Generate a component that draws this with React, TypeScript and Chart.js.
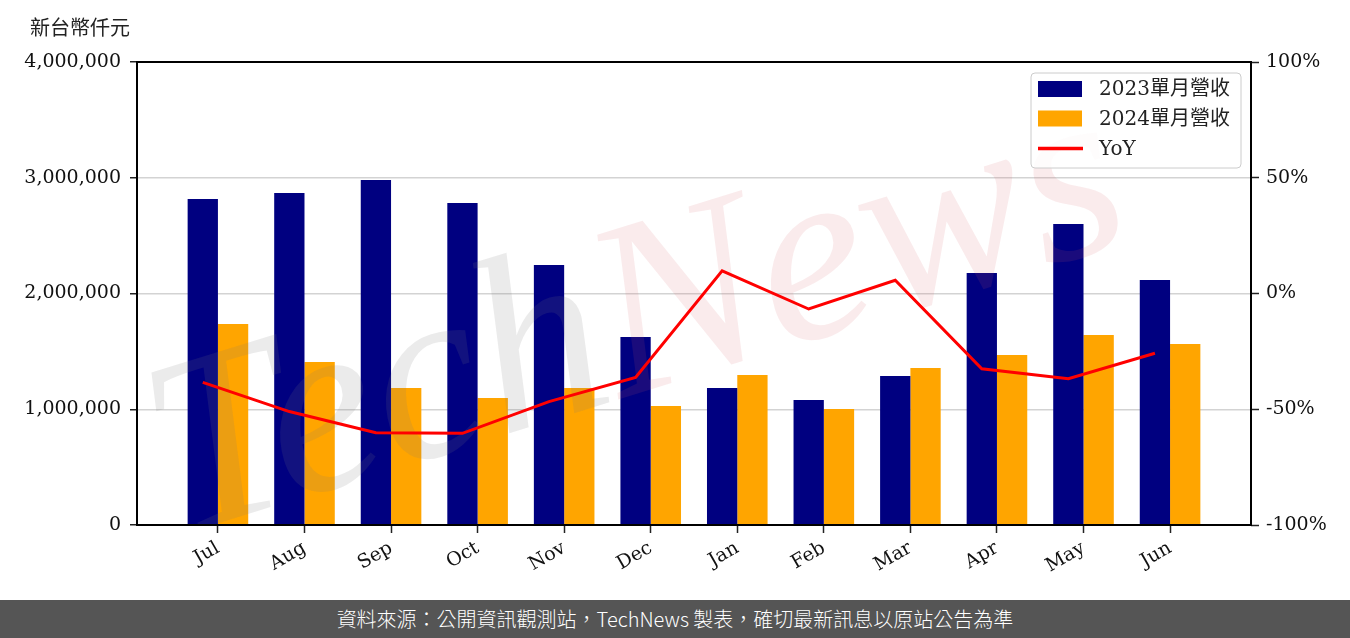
import React, { useEffect, useRef } from "react";
import { Chart, registerables } from "chart.js";

Chart.register(...registerables);

const months = ["Jul", "Aug", "Sep", "Oct", "Nov", "Dec", "Jan", "Feb", "Mar", "Apr", "May", "Jun"];
const rev2023 = [2816000, 2868000, 2981000, 2782000, 2246000, 1624000, 1184000, 1080000, 1287000, 2177000, 2600000, 2117000];
const rev2024 = [1737000, 1408000, 1184000, 1097000, 1184000, 1028000, 1296000, 1002000, 1356000, 1469000, 1641000, 1564000];
const yoy = [-38.4, -51.0, -60.1, -60.4, -46.7, -36.3, 9.8, -6.7, 5.7, -32.5, -36.8, -25.8];
const leftTicks = [0, 1000000, 2000000, 3000000, 4000000];
const rightTicks = [-100, -50, 0, 50, 100];
const seriesNames = ["2023單月營收", "2024單月營收", "YoY"];
const unitLabel = "新台幣仟元";
const footerText = "資料來源：公開資訊觀測站，TechNews 製表，確切最新訊息以原站公告為準";

const SERIF = "'DejaVu Serif', 'Noto Sans CJK TC', serif";
const CJK = "'Noto Sans CJK TC', 'Noto Sans', sans-serif";
const NAVY = "#000080";
const ORANGE = "#FFA500";
const RED = "#FF0000";

const BAR_OFFSET = 0.175;

const overlayPlugin = {
  id: "overlay",
  beforeDatasetDraw(chart: any, args: any) {
    if (args.index !== 2) return;
    const ctx = chart.ctx;
    const a = chart.chartArea;
    ctx.save();
    ctx.beginPath();
    ctx.rect(a.left, a.top, a.right - a.left, a.bottom - a.top);
    ctx.clip();
    ctx.translate(640, 330);
    ctx.rotate(-0.3);
    ctx.font = "italic 250px 'Liberation Serif', serif";
    ctx.textBaseline = "alphabetic";
    ctx.textAlign = "left";
    const w1 = ctx.measureText("Tech").width;
    const w2 = ctx.measureText("News").width;
    const start = -(w1 + w2) / 2;
    ctx.fillStyle = "rgba(120,120,120,0.15)";
    ctx.fillText("Tech", start, 60);
    ctx.fillStyle = "rgba(215,90,100,0.12)";
    ctx.fillText("News", start + w1, 60);
    ctx.restore();
  },
  afterDraw(chart: any) {
    const ctx = chart.ctx;
    const a = chart.chartArea;
    ctx.save();
    // frame
    ctx.strokeStyle = "#000";
    ctx.lineWidth = 2;
    ctx.strokeRect(a.left, a.top, a.right - a.left, a.bottom - a.top);

    // unit label
    ctx.fillStyle = "#222";
    ctx.font = `20px ${CJK}`;
    ctx.textAlign = "left";
    ctx.textBaseline = "middle";
    ctx.fillText(unitLabel, 30, 27);

    // legend
    const lx = 1031, ly = 73, lw = 210, lh = 95;
    ctx.beginPath();
    (ctx as any).roundRect(lx, ly, lw, lh, 4);
    ctx.fillStyle = "rgba(255,255,255,0.85)";
    ctx.fill();
    ctx.strokeStyle = "#cccccc";
    ctx.lineWidth = 1;
    ctx.stroke();

    const rows = [89, 118.5, 148.5];
    ctx.fillStyle = NAVY;
    ctx.fillRect(1038, rows[0] - 8, 44, 16);
    ctx.fillStyle = ORANGE;
    ctx.fillRect(1038, rows[1] - 8, 44, 16);
    ctx.strokeStyle = RED;
    ctx.lineWidth = 3.5;
    ctx.beginPath();
    ctx.moveTo(1038, rows[2]);
    ctx.lineTo(1083, rows[2]);
    ctx.stroke();

    ctx.fillStyle = "#222";
    ctx.font = `20px ${SERIF}`;
    ctx.textBaseline = "middle";
    seriesNames.forEach((n, i) => ctx.fillText(n, 1099, rows[i] + 1));
    ctx.restore();
  },
};

export default function App() {
  const ref = useRef<HTMLCanvasElement | null>(null);

  useEffect(() => {
    if (!ref.current) return;
    const tickFont = { family: SERIF, size: 19 };
    const chart = new Chart(ref.current, {
      type: "bar",
      data: {
        datasets: [
          {
            type: "bar",
            label: seriesNames[0],
            data: rev2023.map((v, i) => ({ x: i, y: v })),
            backgroundColor: NAVY,
            yAxisID: "y",
            xAxisID: "x",
            order: 1,
            categoryPercentage: 0.7,
            barPercentage: 1.0,
          } as any,
          {
            type: "bar",
            label: seriesNames[1],
            data: rev2024.map((v, i) => ({ x: i, y: v })),
            backgroundColor: ORANGE,
            yAxisID: "y",
            xAxisID: "x",
            order: 1,
            categoryPercentage: 0.7,
            barPercentage: 1.0,
          } as any,
          {
            type: "line",
            label: seriesNames[2],
            data: yoy.map((v, i) => ({ x: i - BAR_OFFSET, y: v })),
            borderColor: RED,
            backgroundColor: RED,
            borderWidth: 3,
            pointRadius: 0,
            tension: 0,
            yAxisID: "y1",
            xAxisID: "x",
            order: 0,
          } as any,
        ],
      },
      options: {
        animation: false,
        responsive: false,
        maintainAspectRatio: false,
        layout: { padding: { top: 62, left: 0, right: 0, bottom: 0 } },
        plugins: {
          legend: { display: false },
          tooltip: { enabled: false },
          title: { display: false },
        },
        scales: {
          x: {
            type: "linear",
            offset: false,
            min: -0.935,
            max: 11.935,
            afterBuildTicks: (s: any) => {
              s.ticks = months.map((_, i) => ({ value: i }));
            },
            ticks: {
              callback: (v: any) => months[Math.round(v)] ?? "",
              minRotation: 30,
              maxRotation: 30,
              autoSkip: false,
              font: { family: SERIF, size: 19 },
              color: "#111",
              padding: 4,
            },
            grid: {
              offset: false,
              drawOnChartArea: false,
              tickLength: 8,
              tickColor: "#222",
              tickWidth: 1.5,
            },
            border: { display: false },
            afterFit: (s: any) => {
              s.height = 75;
            },
          } as any,
          y: {
            type: "linear",
            position: "left",
            min: 0,
            max: 4000000,
            afterBuildTicks: (s: any) => {
              s.ticks = leftTicks.map((v) => ({ value: v }));
            },
            ticks: {
              callback: (v: any) => Number(v).toLocaleString("en-US"),
              font: tickFont,
              color: "#111",
              padding: 9,
            },
            grid: {
              color: "#d3d3d3",
              lineWidth: 1.5,
              tickColor: "#222",
              tickLength: 7,
              tickWidth: 1.5,
            },
            border: { display: false },
            afterFit: (s: any) => {
              s.width = 137;
            },
          } as any,
          y1: {
            type: "linear",
            position: "right",
            min: -100,
            max: 100,
            afterBuildTicks: (s: any) => {
              s.ticks = rightTicks.map((v) => ({ value: v }));
            },
            ticks: {
              callback: (v: any) => `${v}%`,
              font: tickFont,
              color: "#111",
              padding: 7,
            },
            grid: {
              drawOnChartArea: false,
              tickColor: "#222",
              tickLength: 8,
              tickWidth: 1.5,
            },
            border: { display: false },
            afterFit: (s: any) => {
              s.width = 99;
            },
          } as any,
        },
      },
      plugins: [overlayPlugin as any],
    });
    return () => chart.destroy();
  }, []);

  return (
    <div style={{ position: "absolute", left: 0, top: 0, width: 1350, height: 638, background: "#fff", overflow: "hidden" }}>
      <canvas ref={ref} width={1350} height={600} style={{ display: "block", width: 1350, height: 600 }} />
      <div
        style={{
          position: "absolute",
          left: 0,
          top: 600,
          width: 1350,
          height: 38,
          background: "#555555",
          color: "#fff",
          fontFamily: CJK,
          fontSize: 20,
          fontWeight: 300,
          lineHeight: "38px",
          textAlign: "center",
        }}
      >
        {footerText}
      </div>
    </div>
  );
}
